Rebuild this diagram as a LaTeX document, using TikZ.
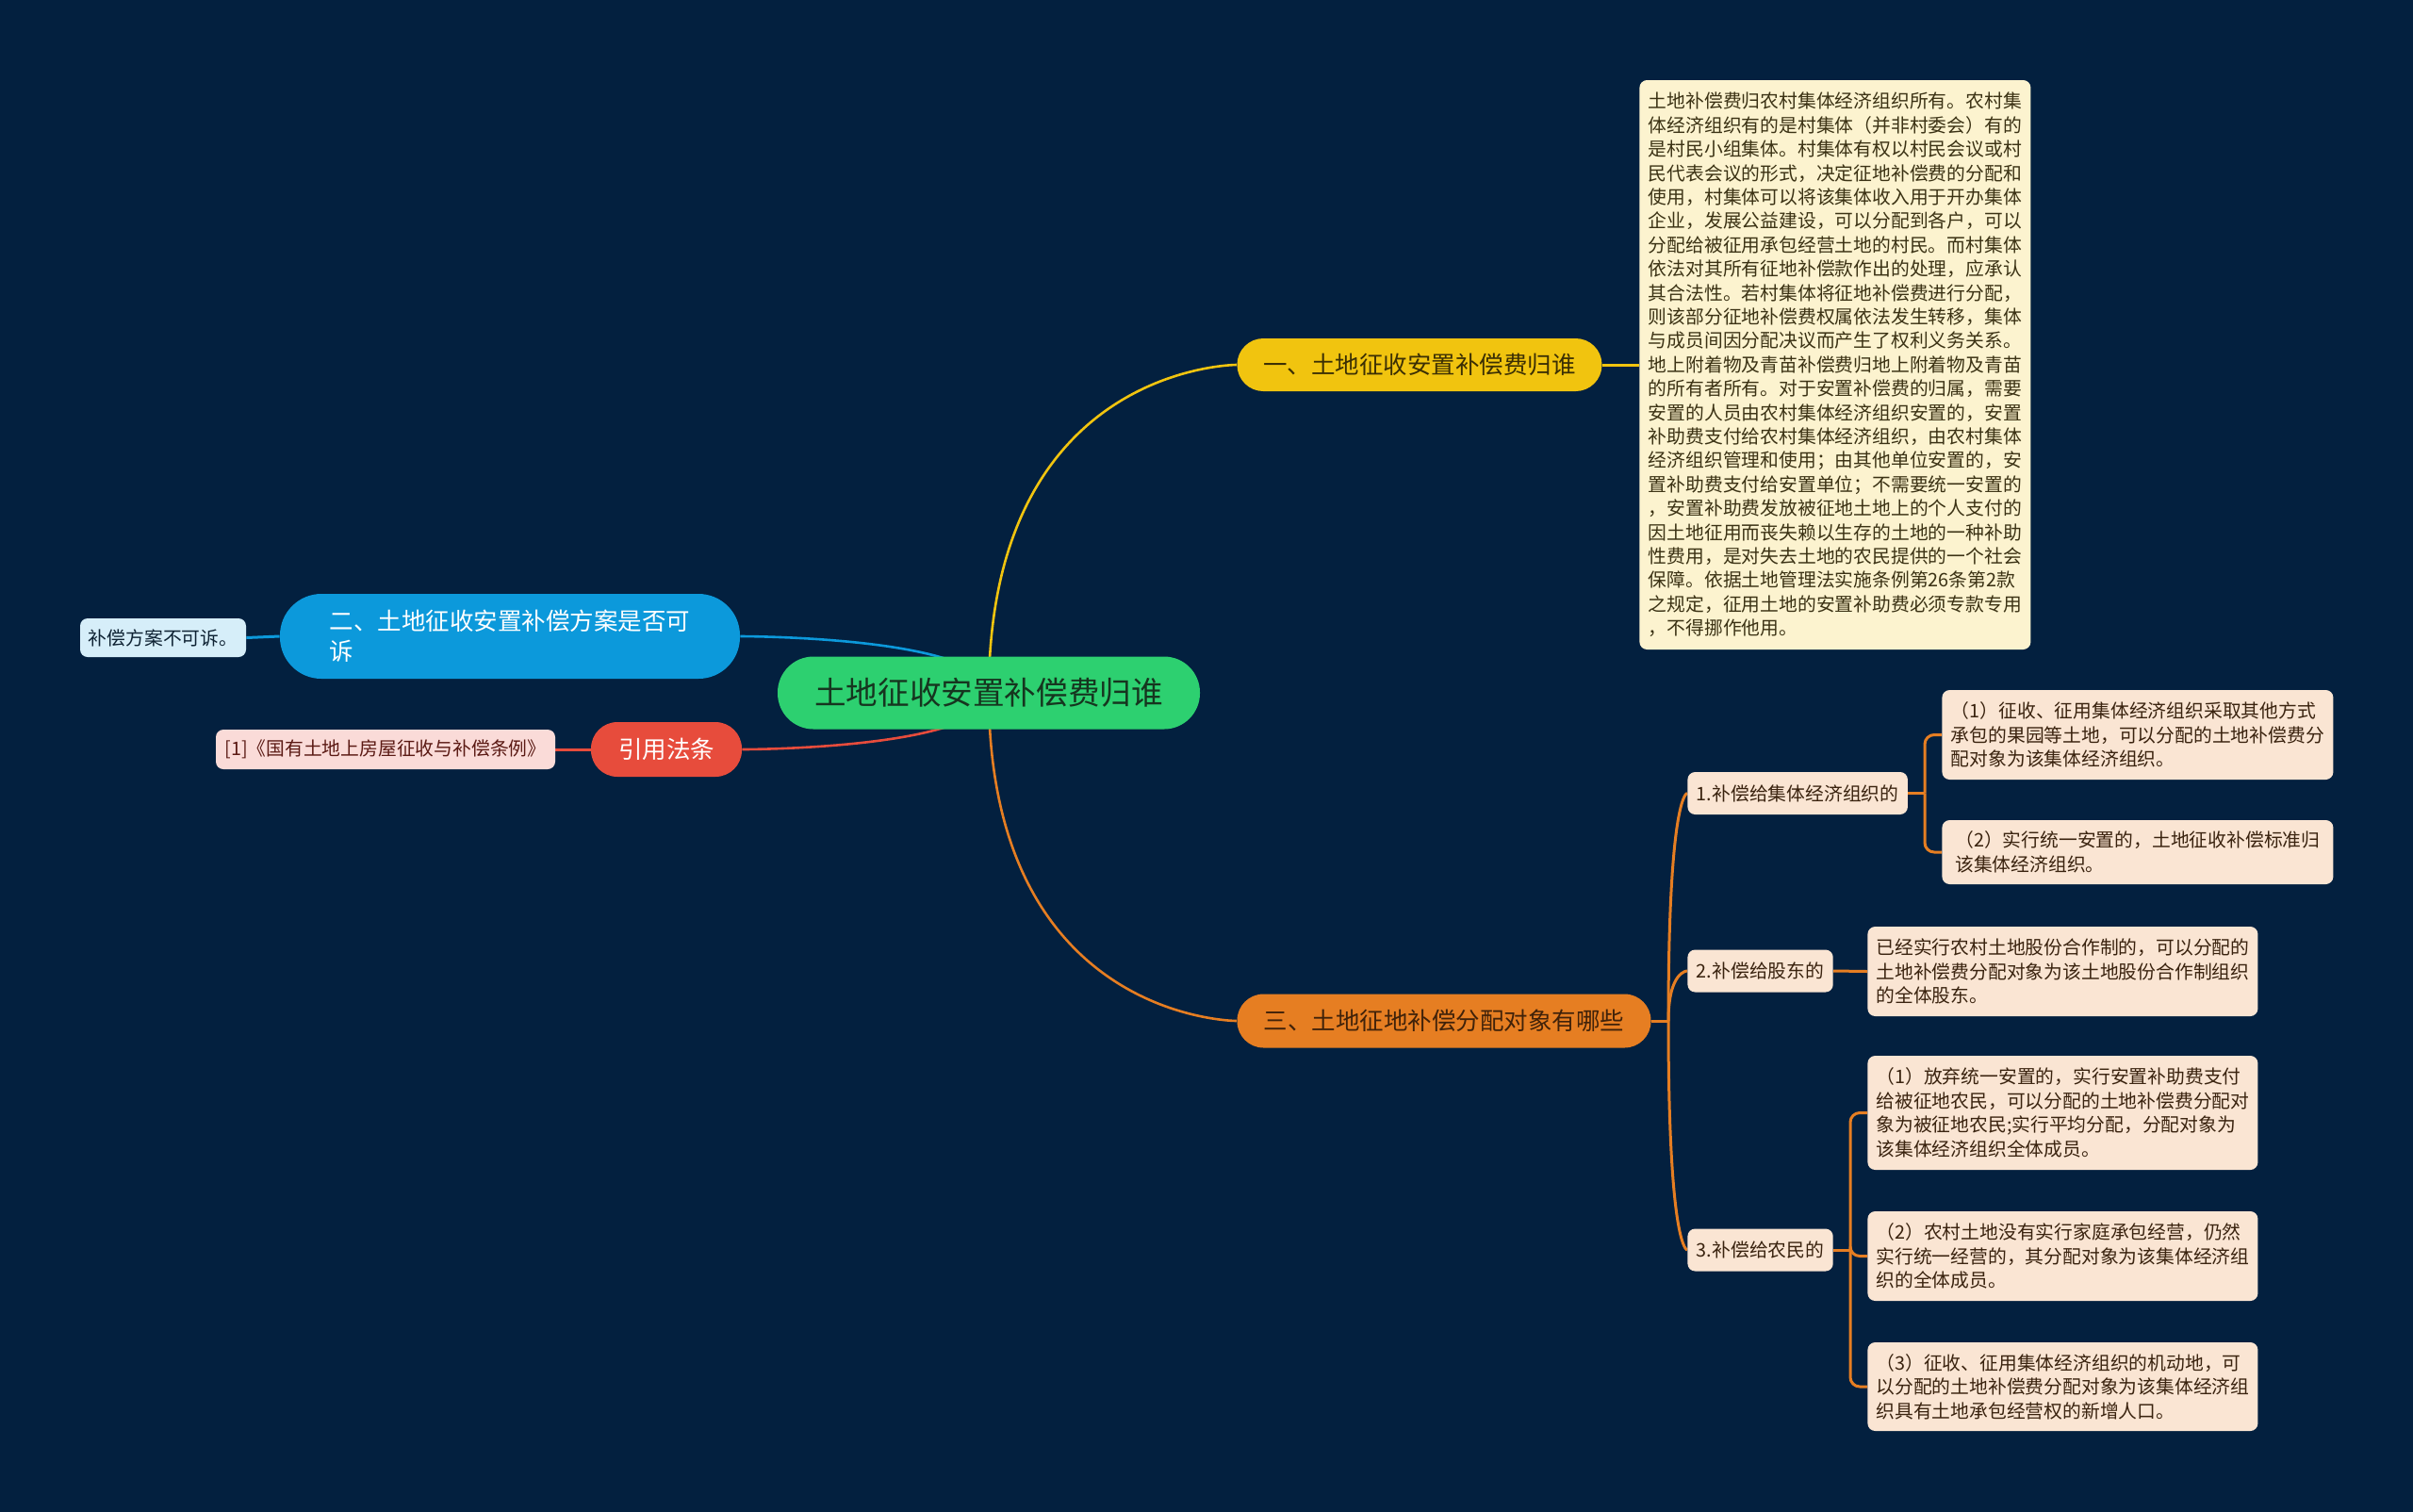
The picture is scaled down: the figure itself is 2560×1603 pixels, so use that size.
\documentclass[tikz,border=0pt]{standalone}
\usepackage{fontspec}
\newfontfamily\cjk{Noto Sans CJK SC}
\usetikzlibrary{backgrounds}
\definecolor{bg}{HTML}{03203F}
\definecolor{rootc}{HTML}{2DD070}
\definecolor{roottx}{HTML}{16351F}
\definecolor{ycol}{HTML}{F1C40F}
\definecolor{ytx}{HTML}{3B2F04}
\definecolor{bcol}{HTML}{0C99DB}
\definecolor{rcol}{HTML}{E74C3C}
\definecolor{ocol}{HTML}{E67E22}
\definecolor{otx}{HTML}{40220A}
\definecolor{yleaf}{HTML}{FCF3CF}
\definecolor{yleaftx}{HTML}{3B3214}
\definecolor{oleaf}{HTML}{FAE5D3}
\definecolor{oleaftx}{HTML}{3A230F}
\definecolor{bleaf}{HTML}{D6EEF9}
\definecolor{bleaftx}{HTML}{0E2233}
\definecolor{rleaf}{HTML}{FADBD8}
\definecolor{rleaftx}{HTML}{5B1A14}
\tikzset{
  small/.style={font=\cjk\fontsize{9.9pt}{12.8pt}\selectfont},
  mid/.style={font=\cjk\fontsize{12.75pt}{16pt}\selectfont},
  leafbox/.style={small, rounded corners=4pt, inner xsep=4pt, inner ysep=3pt, align=left},
  oleafbox/.style={leafbox, fill=oleaf, text=oleaftx, anchor=west},
  subbox/.style={leafbox, fill=oleaf, text=oleaftx, anchor=west, minimum height=22.5pt, inner xsep=4.75pt},
  maincurve/.style={line width=1.3pt},
  subline/.style={line width=1.5pt, ocol},
}
\begin{document}
\begin{tikzpicture}[x=0.5pt,y=-0.5pt]
\useasboundingbox (0,0) rectangle (2560,1603);

% main nodes
\node[fill=rootc, text=roottx, minimum width=224pt, minimum height=38.5pt, rounded corners=19pt,
      font=\cjk\fontsize{16.8pt}{20pt}\selectfont] (root) at (1049,735) {土地征收安置补偿费归谁};
\node[mid, fill=ycol, text=ytx, minimum width=193.5pt, minimum height=28pt, rounded corners=13.9pt] (n1) at (1506,387) {一、土地征收安置补偿费归谁};
\node[mid, fill=bcol, text=white, minimum width=244pt, minimum height=45pt, rounded corners=22pt, align=left] (n2) at (541,675) {二、土地征收安置补偿方案是否可\\诉};
\node[mid, fill=ocol, text=otx, minimum width=219.5pt, minimum height=28.5pt, rounded corners=14pt] (n3) at (1532,1083) {三、土地征地补偿分配对象有哪些};
\node[mid, fill=rcol, text=white, minimum width=80pt, minimum height=29pt, rounded corners=14pt] (n4) at (707,795) {引用法条};

% leaves left
\node[leafbox, fill=bleaf, text=bleaftx, minimum width=88pt, minimum height=20.5pt] (b1) at (173,676.5) {补偿方案不可诉。};
\node[leafbox, fill=rleaf, text=rleaftx, minimum width=180pt, minimum height=21pt] (r1) at (409,795) {[1]《国有土地上房屋征收与补偿条例》};

% text box under n1
\node[leafbox, fill=yleaf, text=yleaftx, anchor=west, minimum width=207.5pt, minimum height=302pt,
      font=\cjk\fontsize{9.9pt}{12.7pt}\selectfont] (t1) at (1739,387) {土地补偿费归农村集体经济组织所有。农村集\\
体经济组织有的是村集体（并非村委会）有的\\
是村民小组集体。村集体有权以村民会议或村\\
民代表会议的形式，决定征地补偿费的分配和\\
使用，村集体可以将该集体收入用于开办集体\\
企业，发展公益建设，可以分配到各户，可以\\
分配给被征用承包经营土地的村民。而村集体\\
依法对其所有征地补偿款作出的处理，应承认\\
其合法性。若村集体将征地补偿费进行分配，\\
则该部分征地补偿费权属依法发生转移，集体\\
与成员间因分配决议而产生了权利义务关系。\\
地上附着物及青苗补偿费归地上附着物及青苗\\
的所有者所有。对于安置补偿费的归属，需要\\
安置的人员由农村集体经济组织安置的，安置\\
补助费支付给农村集体经济组织，由农村集体\\
经济组织管理和使用；由其他单位安置的，安\\
置补助费支付给安置单位；不需要统一安置的\\
，安置补助费发放被征地土地上的个人支付的\\
因土地征用而丧失赖以生存的土地的一种补助\\
性费用，是对失去土地的农民提供的一个社会\\
保障。依据土地管理法实施条例第26条第2款\\
之规定，征用土地的安置补助费必须专款专用\\
，不得挪作他用。};

% sub nodes of n3
\node[subbox] (s1) at (1790,841.5) {1.补偿给集体经济组织的};
\node[subbox] (s2) at (1790,1030) {2.补偿给股东的};
\node[subbox] (s3) at (1790,1326) {3.补偿给农民的};

% leaves of subs
\node[oleafbox, minimum width=207.5pt, minimum height=47.5pt] (l1a) at (2060,779.5) {（1）征收、征用集体经济组织采取其他方式\\承包的果园等土地，可以分配的土地补偿费分\\配对象为该集体经济组织。};
\node[oleafbox, minimum width=207.5pt, minimum height=34pt] (l1b) at (2060,904) {（2）实行统一安置的，土地征收补偿标准归\\该集体经济组织。};
\node[oleafbox, minimum width=207pt, minimum height=47.5pt] (l2) at (1981,1030.5) {已经实行农村土地股份合作制的，可以分配的\\土地补偿费分配对象为该土地股份合作制组织\\的全体股东。};
\node[oleafbox, minimum width=207pt, minimum height=60.5pt] (l3a) at (1981,1180.5) {（1）放弃统一安置的，实行安置补助费支付\\给被征地农民，可以分配的土地补偿费分配对\\象为被征地农民;实行平均分配，分配对象为\\该集体经济组织全体成员。};
\node[oleafbox, minimum width=207pt, minimum height=47.5pt] (l3b) at (1981,1332.5) {（2）农村土地没有实行家庭承包经营，仍然\\实行统一经营的，其分配对象为该集体经济组\\织的全体成员。};
\node[oleafbox, minimum width=207pt, minimum height=47pt] (l3c) at (1981,1471) {（3）征收、征用集体经济组织的机动地，可\\以分配的土地补偿费分配对象为该集体经济组\\织具有土地承包经营权的新增人口。};

\coordinate (j0) at (1770,1083);
\coordinate (j1) at (2042,841.5);
\coordinate (j3) at (1963,1326);

\begin{scope}[on background layer]
\fill[bg] (-20,-20) rectangle (2580,1623);
% root connectors
\draw[maincurve, ycol] (root.center) .. controls (root.center |- n1.west) and (n1.west) .. (n1.west);
\draw[maincurve, ocol] (root.center) .. controls (root.center |- n3.west) and (n3.west) .. (n3.west);
\draw[maincurve, bcol] (root.center) .. controls (root.center |- n2.east) and (n2.east) .. (n2.east);
\draw[maincurve, rcol] (root.center) .. controls (root.center |- n4.east) and (n4.east) .. (n4.east);
% leaves of main nodes
\draw[line width=1.5pt, ycol] (n1.east) -- (t1.west);
\draw[line width=1.5pt, bcol] (n2.west) -- (b1.east);
\draw[line width=1.5pt, rcol] (n4.west) -- (r1.east);
% n3 subtree
\draw[subline] (n3.east) -- (j0);
\draw[subline] (j0) .. controls (j0 |- s1.west) and (s1.west) .. (s1.west);
\draw[subline] (j0) .. controls (j0 |- s2.west) and (s2.west) .. (s2.west);
\draw[subline] (j0) .. controls (j0 |- s3.west) and (s3.west) .. (s3.west);
\draw[subline] (s1.east) -- (j1);
\draw[subline, rounded corners=5pt] (j1) |- (l1a.west);
\draw[subline, rounded corners=5pt] (j1) |- (l1b.west);
\draw[subline] (s2.east) -- (l2.west);
\draw[subline] (s3.east) -- (j3);
\draw[subline, rounded corners=5pt] (j3) |- (l3a.west);
\draw[subline, rounded corners=5pt] (j3) |- (l3b.west);
\draw[subline, rounded corners=5pt] (j3) |- (l3c.west);
\end{scope}
\end{tikzpicture}
\end{document}
